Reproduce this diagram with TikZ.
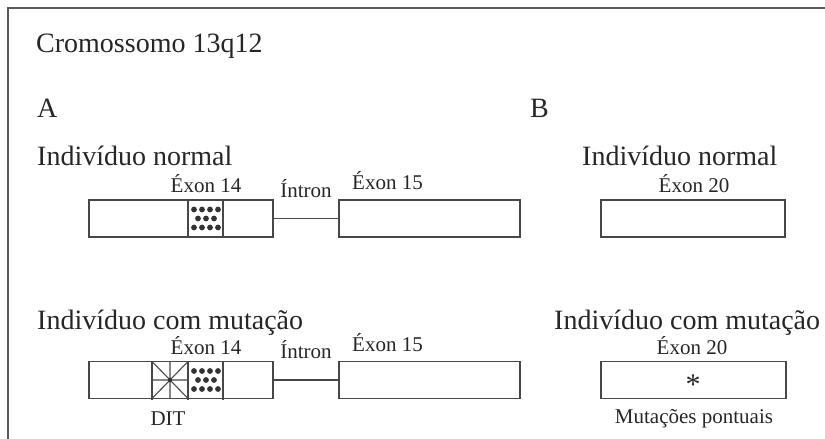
\documentclass[tikz,border=0pt]{standalone}
\usepackage{fontspec}
\setmainfont{Liberation Serif}
\begin{document}
\begin{tikzpicture}[x=1pt,y=-1pt,
  genebox/.style={draw=black!72,line width=1.4pt,minimum height=37pt,inner sep=0pt,outer sep=0pt},
  heading/.style={font=\fontsize{28}{30}\selectfont,inner sep=0pt,anchor=base west,text=black!85},
  lbl/.style={font=\fontsize{21}{23}\selectfont,inner sep=0pt,anchor=base,text=black!85},
  divider/.style={draw=black!72,line width=1.3pt},
  intron/.style={draw=black!72,line width=1.4pt},
  dot/.style={fill=black!80,draw=none}]
\useasboundingbox (0,0) rectangle (825,439);
% frame
\draw[draw=black!65,line width=2pt] (8,439) -- (8,8) -- (825,8);

% headings
\node[heading] (title) at (36,52) {Cromossomo 13q12};
\node[heading] (labA) at (37,117) {A};
\node[heading] (labB) at (530,117) {B};
\node[heading] (hAn) at (37,165) {Indivíduo normal};
\node[heading] (hBn) at (582,165) {Indivíduo normal};
\node[heading] (hAm) at (37,329) {Indivíduo com mutação};
\node[heading] (hBm) at (554,329) {Indivíduo com mutação};

% ---- A normal
\node[genebox,minimum width=184pt] (a1) at (181,218.5) {};
\node[genebox,minimum width=181pt] (a2) at (429.5,218.5) {};
\draw[intron] (a1.east) -- (a2.west);
\draw[divider] (188,200) -- (188,238);
\draw[divider] (223,200) -- (223,238);
\foreach \x in {194,202,210,218} {\fill[dot] (\x,209.5) circle (2.9); \fill[dot] (\x,227.5) circle (2.9);}
\foreach \x in {198,206,214} {\fill[dot] (\x,218.5) circle (2.9);}
\node[lbl] (e14n) at (206,192) {Éxon 14};
\node[lbl] (intn) at (306,197) {Íntron};
\node[lbl,anchor=base west] (e15n) at (352,189) {Éxon 15};

% ---- A mutation
\node[genebox,minimum width=184pt] (m1) at (181,380) {};
\node[genebox,minimum width=181pt] (m2) at (429.5,380) {};
\draw[intron] (m1.east) -- (m2.west);
\draw[divider] (152,361.5) -- (152,399.5);
\draw[divider] (188,361.5) -- (188,399.5);
\draw[divider] (223,361.5) -- (223,399.5);
\draw[divider,line width=1.1pt] (152,361.5) -- (188,398.5) (188,361.5) -- (152,398.5) (170,361.5) -- (170,398.5) (152,380) -- (188,380);
\fill[dot] (170,380) circle (2.2);
\foreach \x in {194,202,210,218} {\fill[dot] (\x,371) circle (2.9); \fill[dot] (\x,389) circle (2.9);}
\foreach \x in {198,206,214} {\fill[dot] (\x,380) circle (2.9);}
\node[lbl] (e14m) at (206,354) {Éxon 14};
\node[lbl] (intm) at (306,358) {Íntron};
\node[lbl,anchor=base west] (e15m) at (352,351) {Éxon 15};
\node[lbl] (dit) at (168,425) {DIT};

% ---- B
\node[genebox,minimum width=184pt] (b1) at (693,218.5) {};
\node[lbl] (e20n) at (694,192) {Éxon 20};
\node[genebox,minimum width=185pt] (b2) at (693.5,380) {};
\node[lbl] (e20m) at (692,354) {Éxon 20};
\node[font=\fontsize{30}{30}\selectfont,inner sep=0pt,text=black!85] (ast) at (693,385) {*};
\node[lbl] (mp) at (694,423) {Mutações pontuais};
\end{tikzpicture}
\end{document}
